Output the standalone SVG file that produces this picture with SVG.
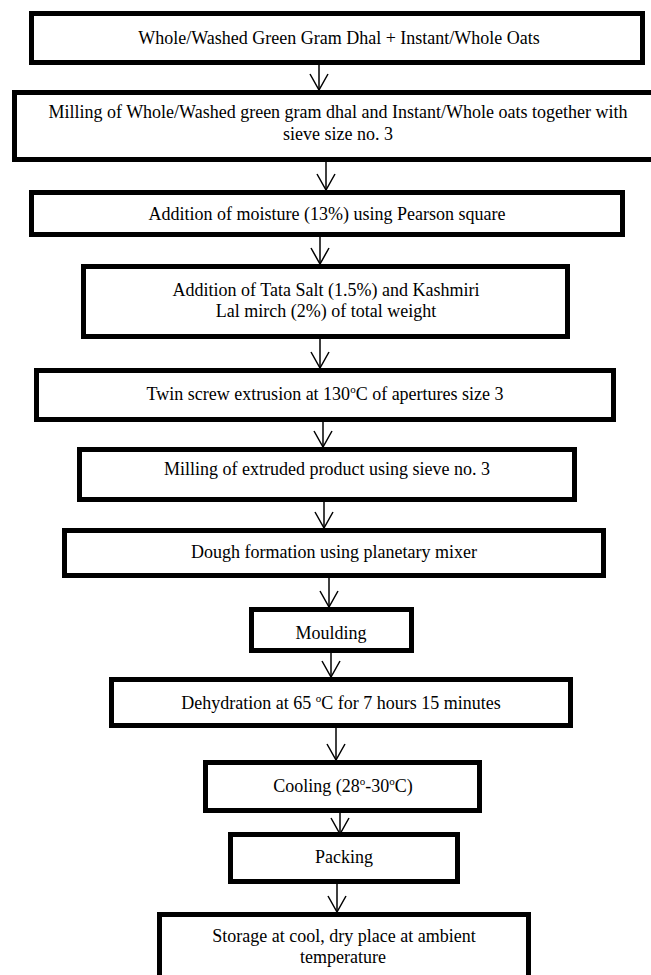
<svg xmlns="http://www.w3.org/2000/svg" width="651" height="975" viewBox="0 0 651 975">
<defs>
<style>
.box{fill:#ffffff;stroke:#000000;stroke-width:5}
.t{font-family:"Liberation Serif","Times New Roman",serif;font-size:18px;fill:#000000;text-anchor:middle}
.c{stroke:#000000;stroke-width:1.5;fill:none}
</style>
<marker id="ah" markerUnits="userSpaceOnUse" orient="auto" viewBox="-1 -1 19 20" refX="16" refY="9" markerWidth="19" markerHeight="20" overflow="visible">
<path d="M0,0 L16,9 L0,18" fill="none" stroke="#000000" stroke-width="1.5"/>
</marker>
</defs>
<rect x="0" y="0" width="651" height="975" fill="#ffffff"/>
<g id="connectors">
<line class="c" x1="319" y1="65" x2="319" y2="90" marker-end="url(#ah)"/>
<line class="c" x1="326" y1="162" x2="326" y2="190" marker-end="url(#ah)"/>
<line class="c" x1="320" y1="237" x2="320" y2="264" marker-end="url(#ah)"/>
<line class="c" x1="320" y1="339" x2="320" y2="368" marker-end="url(#ah)"/>
<line class="c" x1="323" y1="422" x2="323" y2="447" marker-end="url(#ah)"/>
<line class="c" x1="324" y1="502" x2="324" y2="528" marker-end="url(#ah)"/>
<line class="c" x1="329" y1="578" x2="329" y2="607" marker-end="url(#ah)"/>
<line class="c" x1="331" y1="653" x2="331" y2="677" marker-end="url(#ah)"/>
<line class="c" x1="336" y1="728" x2="336" y2="760" marker-end="url(#ah)"/>
<line class="c" x1="340" y1="813" x2="340" y2="834" marker-end="url(#ah)"/>
<line class="c" x1="337" y1="884" x2="337" y2="912" marker-end="url(#ah)"/>
</g>
<g id="n1">
<rect class="box" x="31.5" y="13.5" width="611" height="49"/>
<text class="t" x="339" y="44">Whole/Washed Green Gram Dhal + Instant/Whole Oats</text>
</g>
<g id="n2">
<rect class="box" x="14.5" y="92.5" width="650" height="67"/>
<text class="t" x="338" y="118">Milling of Whole/Washed green gram dhal and Instant/Whole oats together with</text>
<text class="t" x="338" y="140">sieve size no. 3</text>
</g>
<g id="n3">
<rect class="box" x="31.5" y="192.5" width="591" height="42"/>
<text class="t" x="327" y="220">Addition of moisture (13%) using Pearson square</text>
</g>
<g id="n4">
<rect class="box" x="83.5" y="266.5" width="484" height="70"/>
<text class="t" x="326" y="296">Addition of Tata Salt (1.5%) and Kashmiri</text>
<text class="t" x="326" y="317">Lal mirch (2%) of total weight</text>
</g>
<g id="n5">
<rect class="box" x="36.5" y="370.5" width="577" height="49"/>
<text class="t" x="325" y="400">Twin screw extrusion at 130<tspan font-size="11" dy="-7">o</tspan><tspan dy="7">C of apertures size 3</tspan></text>
</g>
<g id="n6">
<rect class="box" x="79.5" y="449.5" width="495" height="50"/>
<text class="t" x="327" y="475">Milling of extruded product using sieve no. 3</text>
</g>
<g id="n7">
<rect class="box" x="64.5" y="530.5" width="539" height="45"/>
<text class="t" x="334" y="558">Dough formation using planetary mixer</text>
</g>
<g id="n8">
<rect class="box" x="251.5" y="609.5" width="160" height="41"/>
<text class="t" x="331" y="639">Moulding</text>
</g>
<g id="n9">
<rect class="box" x="111.5" y="679.5" width="459" height="46"/>
<text class="t" x="341" y="709">Dehydration at 65 <tspan font-size="11" dy="-7">o</tspan><tspan dy="7">C for 7 hours 15 minutes</tspan></text>
</g>
<g id="n10">
<rect class="box" x="205.5" y="762.5" width="274" height="48"/>
<text class="t" x="343" y="792">Cooling (28<tspan font-size="11" dy="-7">o</tspan><tspan dy="7">-30</tspan><tspan font-size="11" dy="-7">o</tspan><tspan dy="7">C)</tspan></text>
</g>
<g id="n11">
<rect class="box" x="230.5" y="834.5" width="227" height="47"/>
<text class="t" x="344" y="863">Packing</text>
</g>
<g id="n12">
<rect class="box" x="159.5" y="914.5" width="369" height="80"/>
<text class="t" x="344" y="942">Storage at cool, dry place at ambient</text>
<text class="t" x="343" y="963">temperature</text>
</g>
</svg>
